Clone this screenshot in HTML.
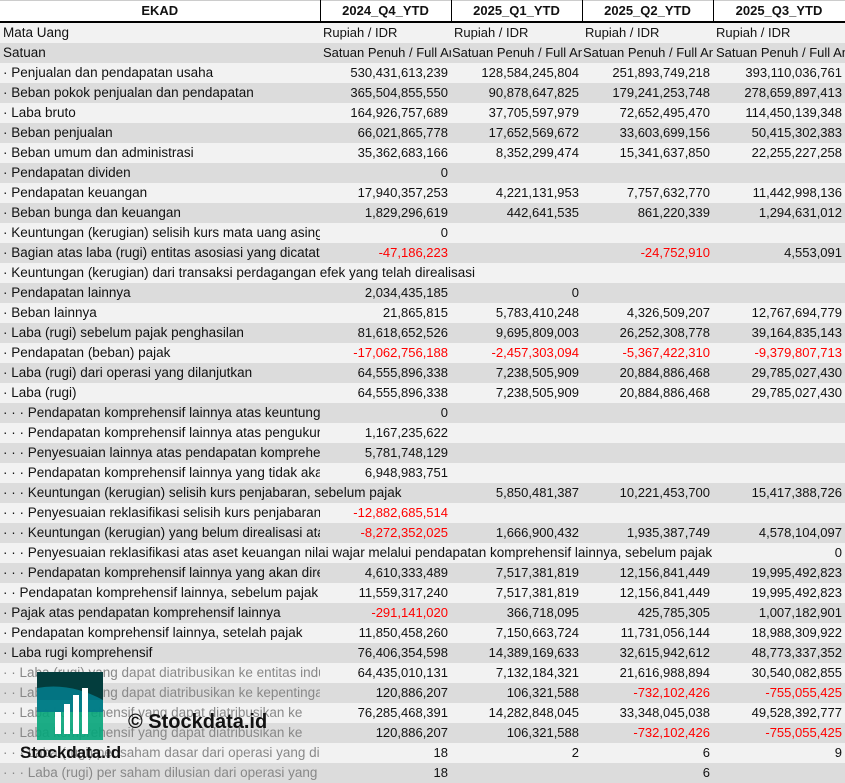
<!DOCTYPE html>
<html><head><meta charset="utf-8"><style>
body{margin:0;width:845px;height:781px;overflow:hidden;background:#fff;font-family:"Liberation Sans",sans-serif;font-size:13px;color:#111;position:relative}
table{border-collapse:collapse;table-layout:fixed;position:absolute;left:0;top:0;width:845px}
td{height:20px;padding:0 3px;white-space:nowrap;overflow:hidden;text-overflow:clip;line-height:20px;box-sizing:border-box}
td:first-child{font-size:13.5px}
td.n{text-align:right}
tr.h td{font-weight:bold;text-align:center;border-right:1.5px solid #000;border-bottom:2px solid #000;background:#fff;border-top:1px solid #ccc;font-size:13px}
tr:nth-child(even) td{background:#f2f2f2}
tr:nth-child(odd):not(.h) td{background:#dcdcdc}
.r{color:#f00}
tr.g td:first-child{color:#888}
</style></head><body>
<table>
<colgroup><col style="width:320px"><col style="width:131px"><col style="width:131px"><col style="width:131px"><col style="width:132px"></colgroup>
<tr class="h"><td>EKAD</td><td>2024_Q4_YTD</td><td>2025_Q1_YTD</td><td>2025_Q2_YTD</td><td>2025_Q3_YTD</td></tr>
<tr><td>Mata Uang</td><td>Rupiah / IDR</td><td>Rupiah / IDR</td><td>Rupiah / IDR</td><td>Rupiah / IDR</td></tr>
<tr><td>Satuan</td><td style="padding:0 0 0 3px">Satuan Penuh / Full Amount</td><td style="padding:0 0 0 1px">Satuan Penuh / Full Amount</td><td style="padding:0 0 0 1px">Satuan Penuh / Full Amount</td><td style="padding:0 0 0 3px">Satuan Penuh / Full Amount</td></tr>
<tr><td>· Penjualan dan pendapatan usaha</td><td class="n">530,431,613,239</td><td class="n">128,584,245,804</td><td class="n">251,893,749,218</td><td class="n">393,110,036,761</td></tr>
<tr><td>· Beban pokok penjualan dan pendapatan</td><td class="n">365,504,855,550</td><td class="n">90,878,647,825</td><td class="n">179,241,253,748</td><td class="n">278,659,897,413</td></tr>
<tr><td>· Laba bruto</td><td class="n">164,926,757,689</td><td class="n">37,705,597,979</td><td class="n">72,652,495,470</td><td class="n">114,450,139,348</td></tr>
<tr><td>· Beban penjualan</td><td class="n">66,021,865,778</td><td class="n">17,652,569,672</td><td class="n">33,603,699,156</td><td class="n">50,415,302,383</td></tr>
<tr><td>· Beban umum dan administrasi</td><td class="n">35,362,683,166</td><td class="n">8,352,299,474</td><td class="n">15,341,637,850</td><td class="n">22,255,227,258</td></tr>
<tr><td>· Pendapatan dividen</td><td class="n">0</td><td></td><td></td><td></td></tr>
<tr><td>· Pendapatan keuangan</td><td class="n">17,940,357,253</td><td class="n">4,221,131,953</td><td class="n">7,757,632,770</td><td class="n">11,442,998,136</td></tr>
<tr><td>· Beban bunga dan keuangan</td><td class="n">1,829,296,619</td><td class="n">442,641,535</td><td class="n">861,220,339</td><td class="n">1,294,631,012</td></tr>
<tr><td>· Keuntungan (kerugian) selisih kurs mata uang asing</td><td class="n">0</td><td></td><td></td><td></td></tr>
<tr><td>· Bagian atas laba (rugi) entitas asosiasi yang dicatat</td><td class="n r">-47,186,223</td><td></td><td class="n r">-24,752,910</td><td class="n">4,553,091</td></tr>
<tr><td colspan="5">· Keuntungan (kerugian) dari transaksi perdagangan efek yang telah direalisasi</td></tr>
<tr><td>· Pendapatan lainnya</td><td class="n">2,034,435,185</td><td class="n">0</td><td></td><td></td></tr>
<tr><td>· Beban lainnya</td><td class="n">21,865,815</td><td class="n">5,783,410,248</td><td class="n">4,326,509,207</td><td class="n">12,767,694,779</td></tr>
<tr><td>· Laba (rugi) sebelum pajak penghasilan</td><td class="n">81,618,652,526</td><td class="n">9,695,809,003</td><td class="n">26,252,308,778</td><td class="n">39,164,835,143</td></tr>
<tr><td>· Pendapatan (beban) pajak</td><td class="n r">-17,062,756,188</td><td class="n r">-2,457,303,094</td><td class="n r">-5,367,422,310</td><td class="n r">-9,379,807,713</td></tr>
<tr><td>· Laba (rugi) dari operasi yang dilanjutkan</td><td class="n">64,555,896,338</td><td class="n">7,238,505,909</td><td class="n">20,884,886,468</td><td class="n">29,785,027,430</td></tr>
<tr><td>· Laba (rugi)</td><td class="n">64,555,896,338</td><td class="n">7,238,505,909</td><td class="n">20,884,886,468</td><td class="n">29,785,027,430</td></tr>
<tr><td>· · · Pendapatan komprehensif lainnya atas keuntungan</td><td class="n">0</td><td></td><td></td><td></td></tr>
<tr><td>· · · Pendapatan komprehensif lainnya atas pengukuran</td><td class="n">1,167,235,622</td><td></td><td></td><td></td></tr>
<tr><td>· · · Penyesuaian lainnya atas pendapatan komprehensif</td><td class="n">5,781,748,129</td><td></td><td></td><td></td></tr>
<tr><td>· · · Pendapatan komprehensif lainnya yang tidak akan</td><td class="n">6,948,983,751</td><td></td><td></td><td></td></tr>
<tr><td colspan="2">· · · Keuntungan (kerugian) selisih kurs penjabaran, sebelum pajak</td><td class="n">5,850,481,387</td><td class="n">10,221,453,700</td><td class="n">15,417,388,726</td></tr>
<tr><td>· · · Penyesuaian reklasifikasi selisih kurs penjabaran</td><td class="n r">-12,882,685,514</td><td></td><td></td><td></td></tr>
<tr><td>· · · Keuntungan (kerugian) yang belum direalisasi atas</td><td class="n r">-8,272,352,025</td><td class="n">1,666,900,432</td><td class="n">1,935,387,749</td><td class="n">4,578,104,097</td></tr>
<tr><td colspan="4">· · · Penyesuaian reklasifikasi atas aset keuangan nilai wajar melalui pendapatan komprehensif lainnya, sebelum pajak</td><td class="n">0</td></tr>
<tr><td>· · · Pendapatan komprehensif lainnya yang akan direklasifikasi</td><td class="n">4,610,333,489</td><td class="n">7,517,381,819</td><td class="n">12,156,841,449</td><td class="n">19,995,492,823</td></tr>
<tr><td>· · Pendapatan komprehensif lainnya, sebelum pajak</td><td class="n">11,559,317,240</td><td class="n">7,517,381,819</td><td class="n">12,156,841,449</td><td class="n">19,995,492,823</td></tr>
<tr><td>· Pajak atas pendapatan komprehensif lainnya</td><td class="n r">-291,141,020</td><td class="n">366,718,095</td><td class="n">425,785,305</td><td class="n">1,007,182,901</td></tr>
<tr><td>· Pendapatan komprehensif lainnya, setelah pajak</td><td class="n">11,850,458,260</td><td class="n">7,150,663,724</td><td class="n">11,731,056,144</td><td class="n">18,988,309,922</td></tr>
<tr><td>· Laba rugi komprehensif</td><td class="n">76,406,354,598</td><td class="n">14,389,169,633</td><td class="n">32,615,942,612</td><td class="n">48,773,337,352</td></tr>
<tr class="g"><td>· · Laba (rugi) yang dapat diatribusikan ke entitas induk</td><td class="n">64,435,010,131</td><td class="n">7,132,184,321</td><td class="n">21,616,988,894</td><td class="n">30,540,082,855</td></tr>
<tr class="g"><td>· · Laba (rugi) yang dapat diatribusikan ke kepentingan</td><td class="n">120,886,207</td><td class="n">106,321,588</td><td class="n r">-732,102,426</td><td class="n r">-755,055,425</td></tr>
<tr class="g"><td>· · Laba komprehensif yang dapat diatribusikan ke</td><td class="n">76,285,468,391</td><td class="n">14,282,848,045</td><td class="n">33,348,045,038</td><td class="n">49,528,392,777</td></tr>
<tr class="g"><td>· · Laba komprehensif yang dapat diatribusikan ke</td><td class="n">120,886,207</td><td class="n">106,321,588</td><td class="n r">-732,102,426</td><td class="n r">-755,055,425</td></tr>
<tr class="g"><td>· · · Laba (rugi) per saham dasar dari operasi yang dilanjutkan</td><td class="n">18</td><td class="n">2</td><td class="n">6</td><td class="n">9</td></tr>
<tr class="g"><td>· · · Laba (rugi) per saham dilusian dari operasi yang dilanjutkan</td><td class="n">18</td><td class="n"></td><td class="n">6</td><td class="n"></td></tr>
</table>
<svg style="position:absolute;left:0;top:0" width="845" height="781">
<path d="M37 672 H103 V740 H37 Z" fill="#05a57a" opacity=".9"/>
<path d="M37 672 H103 V700 Q103 700 37 700 Z" fill="#033d3d"/>
<path d="M37 688 Q70 682 103 700 V712 H37 Z" fill="#037a8a" opacity=".9"/>
<rect x="55" y="712" width="6" height="22" fill="#fff"/>
<rect x="64" y="704" width="6" height="30" fill="#fff"/>
<rect x="73" y="695" width="6" height="39" fill="#fff"/>
<rect x="82" y="688" width="6" height="46" fill="#fff"/>
<text x="128" y="728" font-family="Liberation Sans" font-weight="bold" font-size="20" fill="#111">© Stockdata.id</text>
<text x="20" y="758" font-family="Liberation Sans" font-weight="bold" font-size="17" fill="#111">Stockdata.id</text>
</svg>
</body></html>
